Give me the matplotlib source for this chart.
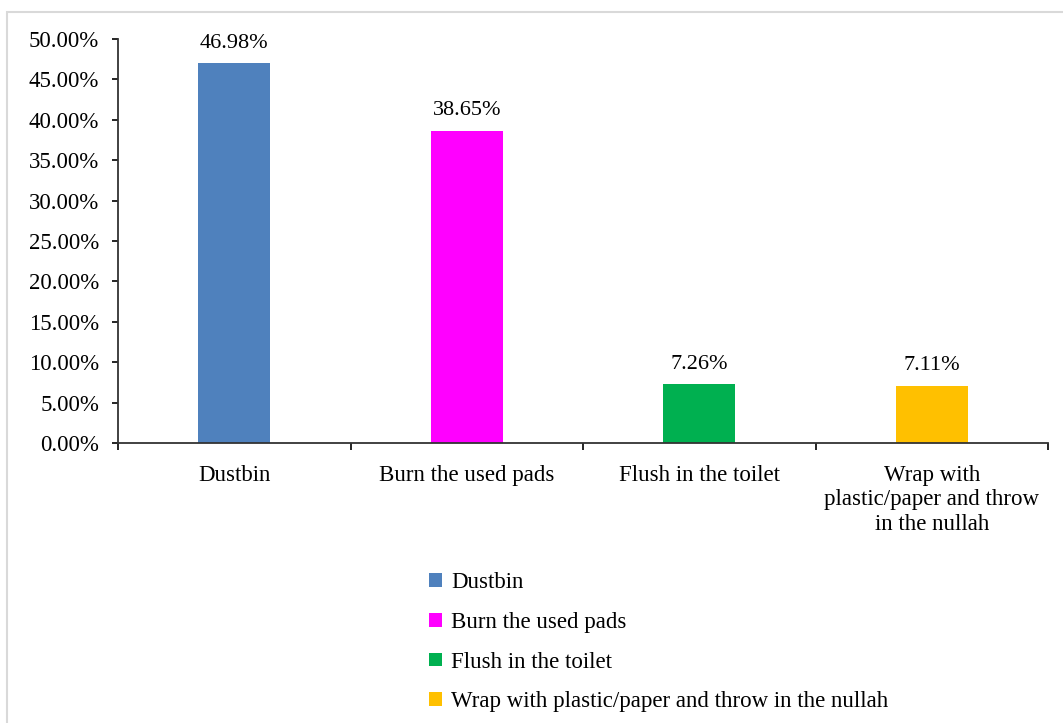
import matplotlib
matplotlib.use("Agg")
import matplotlib.pyplot as plt
from matplotlib.patches import Rectangle
from matplotlib.ticker import FixedLocator, FuncFormatter, MultipleLocator

plt.rcParams["font.family"] = ["Liberation Serif", "DejaVu Serif"]

categories = ["Dustbin", "Burn the used pads", "Flush in the toilet",
              "Wrap with plastic/paper and throw in the nullah"]
tick_labels = ["Dustbin", "Burn the used pads", "Flush in the toilet",
               "Wrap with\nplastic/paper and throw\nin the nullah"]
values = [46.98, 38.65, 7.26, 7.11]
colors = ["#4F81BD", "#FF00FF", "#00B050", "#FFC000"]

fig = plt.figure(figsize=(10.63, 7.23), dpi=100)
ax = fig.add_axes([118 / 1063, 1 - 443 / 723, 930 / 1063, 404 / 723])

x = list(range(len(values)))
bars = ax.bar(x, values, width=0.31, color=colors, label=categories)
for xi, v in zip(x, values):
    ax.text(xi, v + 1.3, f"{v:.2f}%", ha="center", va="bottom", fontsize=16)

ax.set_xlim(-0.5, len(values) - 0.5)
ax.set_ylim(0, 50)
ax.yaxis.set_major_locator(MultipleLocator(5))
ax.yaxis.set_major_formatter(FuncFormatter(lambda v, _: f"{v:.2f}%"))
ax.xaxis.set_major_locator(FixedLocator([i - 0.5 for i in range(len(values) + 1)]))
ax.xaxis.set_minor_locator(FixedLocator(x))
ax.set_xticklabels([""] * (len(values) + 1))
ax.set_xticklabels(tick_labels, minor=True, fontsize=16.5, linespacing=1.2)
ax.tick_params(axis="x", which="minor", length=0, pad=16)
ax.tick_params(axis="x", which="major", length=5, width=1.2, direction="out")
ax.tick_params(axis="y", length=4.5, width=1.2, direction="out", labelsize=16.5, pad=9)

for side in ("top", "right"):
    ax.spines[side].set_visible(False)
for side in ("left", "bottom"):
    ax.spines[side].set_linewidth(1.3)
    ax.spines[side].set_color("#333333")

leg = fig.legend(handles=bars, labels=categories, loc="upper left",
                 bbox_to_anchor=(413 / 1063, 1 - 556 / 723), frameon=False,
                 fontsize=16.5, handlelength=0.55, handleheight=0.55,
                 handletextpad=0.4, labelspacing=0.82, borderpad=0.2)

# light frame around the chart area
fig.patches.append(Rectangle((7 / 1063, -0.01), 1.1, 1 - 12 / 723 + 0.01,
                             transform=fig.transFigure, fill=False,
                             edgecolor="#D9D9D9", linewidth=1.5))

fig.savefig("out.png", dpi=100)
